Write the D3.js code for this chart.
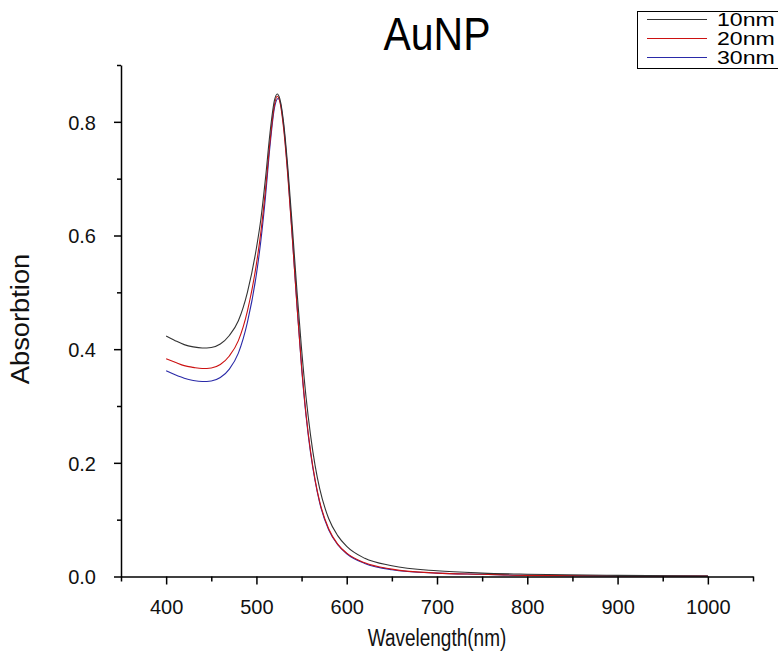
<!DOCTYPE html>
<html><head><meta charset="utf-8">
<script src="https://cdn.jsdelivr.net/npm/d3@7"></script>
<style>body{margin:0;background:#fff}svg{display:block}text{font-family:"Liberation Sans",Arial,sans-serif}</style>
</head><body><svg id="c" width="778" height="660"></svg>
<script>
const title = "AuNP";
const xLabel = "Wavelength(nm)";
const yLabel = "Absorbtion";
const seriesNames = ["10nm", "20nm", "30nm"];
const seriesColors = ["#333333", "#cc1111", "#2a2aa8"];
const xMajorTicks = [400, 500, 600, 700, 800, 900, 1000];
const xMinorTicks = [350, 450, 550, 650, 750, 850, 950, 1050];
const yMajorTicks = [0.0, 0.2, 0.4, 0.6, 0.8];
const yMinorTicks = [0.1, 0.3, 0.5, 0.7, 0.9];

const wl10 = [400,410,420,430,440,450,460,470,480,490,500,505,510,515,520,523,526,530,535,540,545,550,555,560,565,570,580,590,600,620,650,700,750,800,900,1000];
const abs10 = [0.423,0.415,0.408,0.404,0.402,0.403,0.409,0.424,0.450,0.500,0.578,0.630,0.700,0.780,0.838,0.849,0.840,0.800,0.715,0.610,0.500,0.400,0.315,0.248,0.195,0.155,0.102,0.072,0.053,0.032,0.019,0.010,0.006,0.004,0.002,0.001];
const wl20 = [400,410,420,430,440,450,460,470,480,490,500,505,510,515,520,523,526,530,535,540,545,550,555,560,565,570,580,590,600,620,650,700,750,800,900,1000];
const abs20 = [0.383,0.377,0.371,0.368,0.366,0.367,0.373,0.388,0.415,0.467,0.550,0.607,0.680,0.765,0.830,0.845,0.835,0.790,0.700,0.590,0.475,0.370,0.285,0.220,0.170,0.132,0.084,0.057,0.041,0.024,0.013,0.006,0.004,0.002,0.001,0.001];
const wl30 = [400,410,420,430,440,450,460,470,480,490,500,505,510,515,520,524,527,530,535,540,545,550,555,560,565,570,580,590,600,620,650,700,750,800,900,1000];
const abs30 = [0.362,0.355,0.349,0.345,0.343,0.344,0.350,0.365,0.393,0.447,0.532,0.592,0.668,0.757,0.825,0.841,0.830,0.795,0.705,0.592,0.475,0.368,0.282,0.217,0.168,0.130,0.082,0.056,0.040,0.023,0.012,0.006,0.004,0.002,0.001,0.001];

const series = [
  {name: seriesNames[0], color: seriesColors[0], pts: wl10.map((w,i)=>[w, abs10[i]])},
  {name: seriesNames[1], color: seriesColors[1], pts: wl20.map((w,i)=>[w, abs20[i]])},
  {name: seriesNames[2], color: seriesColors[2], pts: wl30.map((w,i)=>[w, abs30[i]])}
];

const svg = d3.select("#c");
const x = d3.scaleLinear().domain([350, 1050]).range([121, 753]);
const y = d3.scaleLinear().domain([0, 0.9]).range([576.5, 65]);

const line = d3.line().x(d=>x(d[0])).y(d=>y(d[1])).curve(d3.curveMonotoneX);
const g = svg.append("g");
series.slice().reverse().forEach(s=>{
  g.append("path").attr("d", line(s.pts)).attr("fill","none")
   .attr("stroke", s.color).attr("stroke-width", 1.1);
});

// axes
const xAxis = svg.append("g").attr("transform", `translate(0,${y(0)})`)
  .call(d3.axisBottom(x).tickValues(xMajorTicks).tickSize(8).tickSizeOuter(0).tickFormat(d3.format("d")));
svg.append("g").attr("transform", `translate(0,${y(0)})`)
  .call(d3.axisBottom(x).tickValues(xMinorTicks).tickSize(5).tickSizeOuter(0).tickFormat(""))
  .select(".domain").remove();
const yAxis = svg.append("g").attr("transform", `translate(${x(350)},0)`)
  .call(d3.axisLeft(y).tickValues(yMajorTicks).tickSize(7).tickSizeOuter(0).tickFormat(d3.format(".1f")));
svg.append("g").attr("transform", `translate(${x(350)},0)`)
  .call(d3.axisLeft(y).tickValues(yMinorTicks).tickSize(4).tickSizeOuter(0).tickFormat(""))
  .select(".domain").remove();
svg.selectAll(".domain, .tick line").attr("stroke","#000").attr("stroke-width",1.5);
xAxis.selectAll("text").attr("font-size", 20).attr("y", 37.5).attr("dy", 0).attr("fill","#111");
yAxis.selectAll("text").attr("font-size", 20).attr("x", -25).attr("dy", "0.36em").attr("fill","#111");

svg.append("text").attr("transform","translate(437,50) scale(1,1.12)").attr("text-anchor","middle")
  .attr("font-size", 41).attr("fill","#000").text(title);
svg.append("text").attr("transform","translate(437,646) scale(1,1.25)").attr("text-anchor","middle")
  .attr("font-size", 19).attr("fill","#111").text(xLabel);
svg.append("text").attr("transform","translate(29,319) rotate(-90) scale(1.3,1.2)").attr("text-anchor","middle")
  .attr("font-size", 21).attr("fill","#111").text(yLabel);

// legend
const lg = svg.append("g");
lg.append("rect").attr("x", 637.5).attr("y", 11.5).attr("width", 160).attr("height", 57)
  .attr("fill","#fff").attr("stroke","#000").attr("stroke-width",1);
series.forEach((s,i)=>{
  const yy = 19.5 + i*19;
  lg.append("line").attr("x1", 647).attr("x2", 707).attr("y1", yy).attr("y2", yy)
    .attr("stroke", s.color).attr("stroke-width", 1.1);
  lg.append("text").attr("transform", `translate(717,${yy + 6.5}) scale(1.4,1.1)`)
    .attr("font-size", 16.5).attr("fill","#000").text(s.name);
});
</script></body></html>
